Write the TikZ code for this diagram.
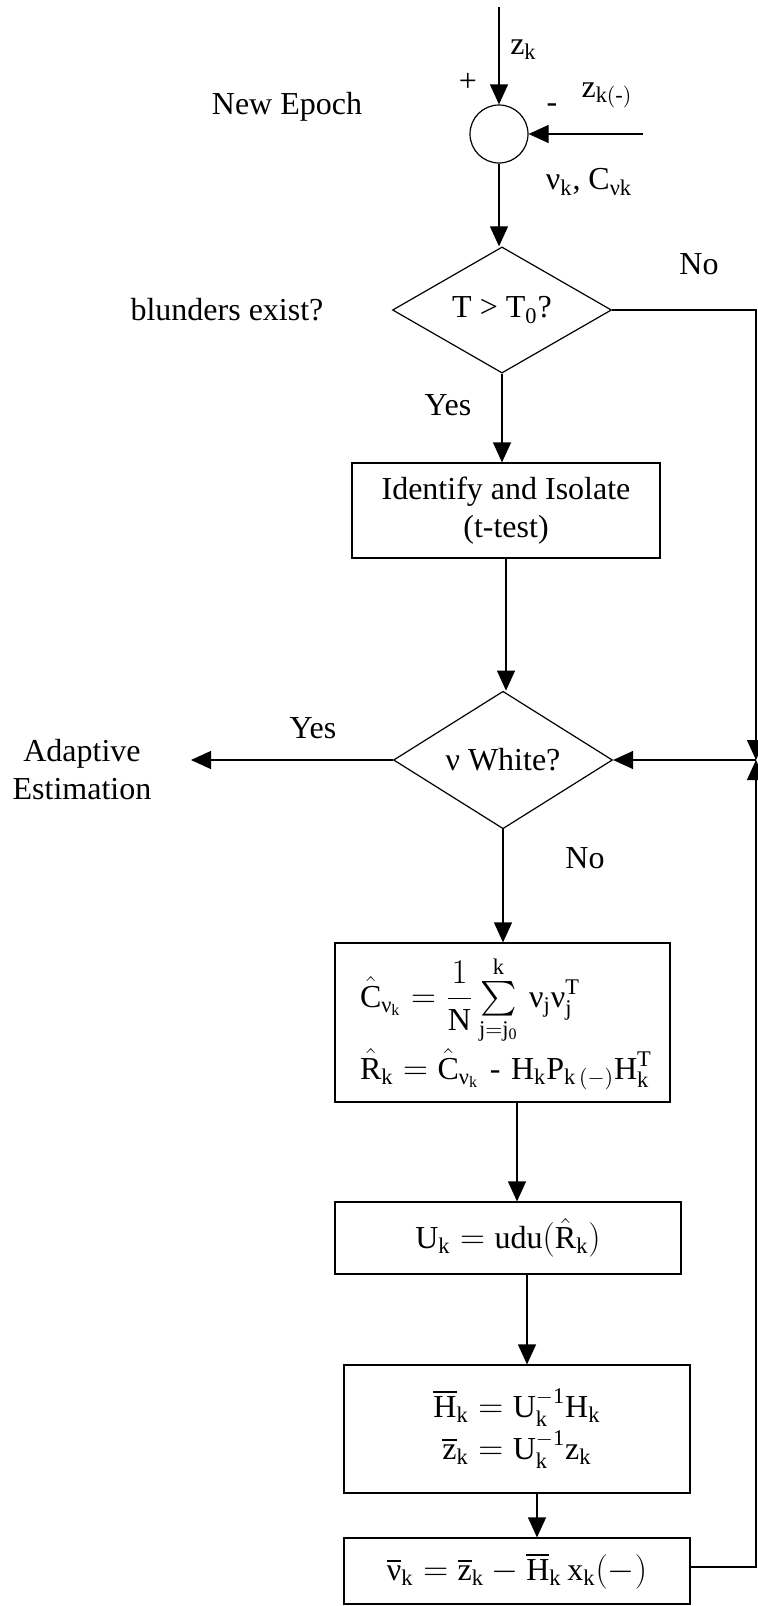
\documentclass[tikz,border=0pt]{standalone}
\usepackage{amsmath}
\usepackage{fontspec}
\setmainfont{Liberation Serif}
\usetikzlibrary{shapes.geometric,arrows.meta}
\begin{document}
\begin{tikzpicture}[x=0.5pt,y=-0.5pt,line width=0.6pt,
  font=\fontsize{16}{19}\selectfont,
  arr/.style={-{Triangle[length=10pt,width=9pt]}},
  box/.style={draw,rectangle,inner sep=0pt,align=center},
  test/.style={draw,diamond,inner sep=0pt,minimum width=109.5pt,minimum height=57.5pt}]
\useasboundingbox (0,0) rectangle (757,1606);
\node[draw,circle,minimum size=29pt,inner sep=0pt] (sum) at (499,134) {};
\coordinate (zin) at (499,7);
\coordinate (zpred) at (643,134);
\draw[arr] (zin) -- (sum.north);
\draw[arr] (zpred) -- (sum.east);
\node[anchor=west] (zk) at (503,50) {$\mathrm{z_k}$};
\node (plus) at (468,82) {+};
\node (minus) at (552,108) {-};
\node (zkm) at (607,95) {$\mathrm{z}_{\mathrm{k}(\text{-})}$};
\node (nuk) at (589,182) {$\text{ν}_\mathrm{k}$, $\mathrm{C}_{\text{νk}}$};
\node (epoch) at (287,107) {New Epoch};
\node[test] (tst) at (502,310) {T > T\textsubscript{0}?};
\node (blund) at (227,310) {blunders exist?};
\node (no1) at (699,264) {No};
\node (yes1) at (448,405) {Yes};
\node[box,minimum width=154pt,minimum height=47.5pt] (iso) at (506,510.5) {Identify and Isolate\\(t-test)};
\node[test] (white) at (503,760) {ν White?};
\node (yes2) at (313,728) {Yes};
\node[align=center] (adapt) at (82,770) {Adaptive\\Estimation};
\coordinate (aend) at (191,760);
\node (no2) at (585,858) {No};
\node[box,minimum width=167.5pt,minimum height=79.5pt,inner xsep=12.5pt,text width=142.5pt,align=left] (cov) at (502.5,1022.5)
  {\mbox{$\displaystyle\hat{\mathrm{C}}_{\text{ν}_\mathrm{k}} = \frac{1}{\mathrm{N}}\textstyle\sum\limits_{\mathrm{j=j_0}}^{\mathrm{k}}\,\text{ν}_\mathrm{j}\text{ν}_\mathrm{j}^\mathrm{T}$}\\[1pt]
   \mbox{$\hat{\mathrm{R}}_\mathrm{k} = \hat{\mathrm{C}}_{\text{ν}_\mathrm{k}}$ - $\mathrm{H_k P_{k\,(-)} H_k^T}$}};
\node[box,minimum width=173pt,minimum height=36pt] (chol) at (508,1238)
  {$\mathrm{U}_\mathrm{k} = \mathrm{udu}(\hat{\mathrm{R}}_\mathrm{k})$};
\node[box,minimum width=173pt,minimum height=64pt] (whit) at (517,1429)
  {$\overline{\mathrm{H}}_\mathrm{k} = \mathrm{U_k^{-1} H_k}$\\[2pt]$\overline{\mathrm{z}}_\mathrm{k} = \mathrm{U_k^{-1} z_k}$};
\node[box,minimum width=173pt,minimum height=33pt] (innov) at (517,1571)
  {$\overline{\text{ν}}_\mathrm{k} = \overline{\mathrm{z}}_\mathrm{k} - \overline{\mathrm{H}}_\mathrm{k}\,\mathrm{x_k(-)}$};
\coordinate (fb) at (756,760);
\draw[arr] (sum.south) -- (sum.south |- tst.north);
\draw[arr] (tst.south) -- (tst.south |- iso.north);
\draw[arr] (iso.south) -- (iso.south |- white.north);
\draw[arr] (white.south) -- (white.south |- cov.north);
\draw[arr] ([xshift=7.25pt]cov.south) -- ([xshift=4.5pt]chol.north);
\draw[arr] ([xshift=9.5pt]chol.south) -- ([xshift=5pt]whit.north);
\draw[arr] ([xshift=10pt]whit.south) -- ([xshift=10pt]innov.north);
\draw[arr] (tst.east) -| (fb);
\draw[arr] ([yshift=2pt]innov.east) -| (fb);
\draw[arr] (fb) -- (white.east);
\draw[arr] (white.west) -- (aend);
\end{tikzpicture}
\end{document}
